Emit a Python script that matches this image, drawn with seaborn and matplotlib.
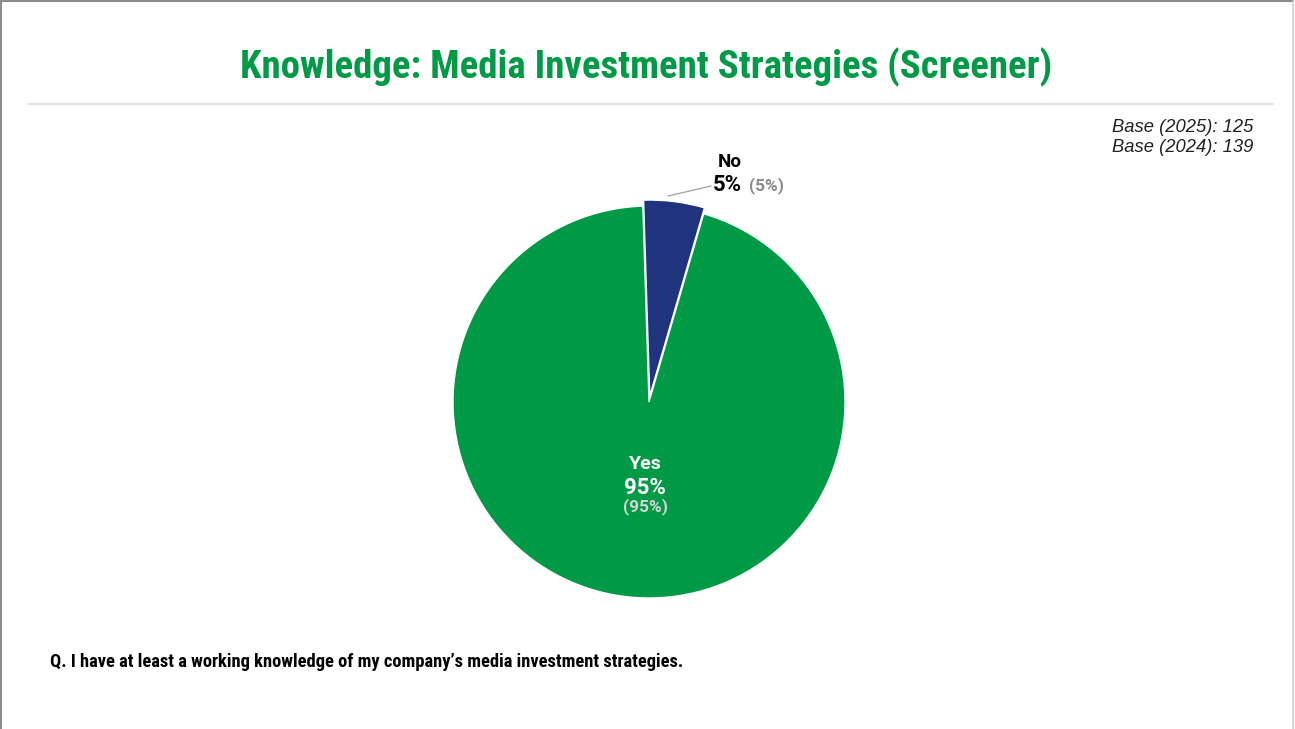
import matplotlib
matplotlib.use("Agg")
import matplotlib.pyplot as plt
import seaborn as sns

# Survey answers and shares
categories = ["Yes", "No"]
share_2025 = [95, 5]
share_2024 = [95, 5]
base_labels = ["Base (2025): 125", "Base (2024): 139"]
title = "Knowledge: Media Investment Strategies (Screener)"
question = "Q. I have at least a working knowledge of my company\u2019s media investment strategies."

sns.set_theme(style="white")
plt.rcParams["font.family"] = ["Roboto Condensed", "DejaVu Sans"]
plt.rcParams["font.stretch"] = "condensed"

GREEN = "#009A46"
NAVY = "#1F347D"
LABEL_FONT = ["Roboto", "DejaVu Sans"]

W, H = 1295, 729
fig = plt.figure(figsize=(W / 100, H / 100), dpi=100)
fig.patch.set_facecolor("white")

# one axes spanning the figure, in pixel units (y grows downward)
ax = fig.add_axes([0, 0, 1, 1])

# pie: Yes (green) and No (navy), No pulled out slightly
# the y-axis is inverted, so counterclock=True draws clockwise on screen
order = [1, 0]
vals = [share_2025[i] for i in order]
cols = [NAVY, GREEN]
wedges, _ = ax.pie(vals, colors=cols, startangle=-91.8, counterclock=True,
                   center=(649, 402), radius=196, explode=[6, 0],
                   wedgeprops=dict(edgecolor="white", linewidth=1.0), frame=True)
ax.set_xlim(0, W)
ax.set_ylim(H, 0)
ax.set_aspect("equal")
ax.axis("off")

# frame and title rule
ax.plot([1, 1], [H, 1], color="#8c8c8c", lw=1.5)
ax.plot([1, W - 2], [1, 1], color="#8c8c8c", lw=1.5)
ax.plot([W - 2, W - 2], [1, H], color="#d0d0d0", lw=1.2)
ax.plot([28, 1273], [104, 104], color="#dcdcdc", lw=1.2)

ax.text(646, 67, title, ha="center", va="center", color=GREEN,
        fontsize=28, fontweight="bold")

for i, t in enumerate(base_labels):
    ax.text(1253, 127 + 20 * i, t, ha="right", va="center", fontsize=13.2,
            style="italic", family=["Liberation Sans", "DejaVu Sans"],
            stretch="normal", color="#222222")

# label for No with leader line
ax.plot([668, 711], [196, 186], color="#a6a6a6", lw=1)
ax.text(730, 162, categories[1], ha="center", va="center", fontsize=13.5,
        fontweight="bold", color="black", family=LABEL_FONT, stretch="normal")
ax.text(742, 185, f"{share_2025[1]}%", ha="right", va="center", fontsize=16,
        fontweight="bold", color="black", family=LABEL_FONT, stretch="normal")
ax.text(749, 186, f"({share_2024[1]}%)", ha="left", va="center", fontsize=12.5,
        fontweight="bold", color="#8a8a8a", family=LABEL_FONT, stretch="normal")

# label for Yes inside the slice
ax.text(645, 464, categories[0], ha="center", va="center", fontsize=14,
        fontweight="bold", color="white", family=LABEL_FONT, stretch="normal")
ax.text(645, 488, f"{share_2025[0]}%", ha="center", va="center", fontsize=16,
        fontweight="bold", color="white", family=LABEL_FONT, stretch="normal")
ax.text(645, 507, f"({share_2024[0]}%)", ha="center", va="center", fontsize=12.5,
        fontweight="bold", color="#d4d4d4", family=LABEL_FONT, stretch="normal")

ax.text(50, 662, question, ha="left", va="center", fontsize=13.3,
        fontweight="bold", color="black")

fig.savefig("out.png", dpi=100, facecolor="white")
